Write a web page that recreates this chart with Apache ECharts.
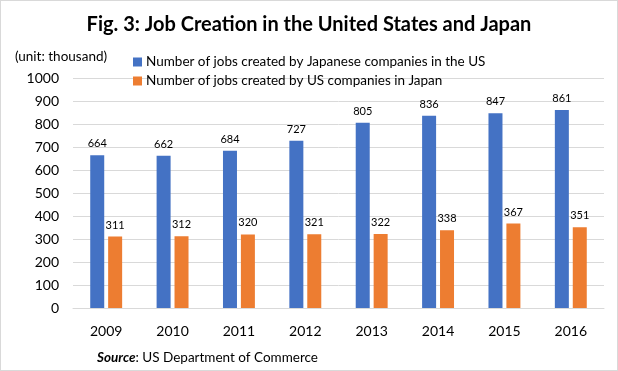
<!DOCTYPE html>
<html><head><meta charset="utf-8">
<script src="https://cdn.jsdelivr.net/npm/echarts@6/dist/echarts.min.js"></script>
<style>html,body{margin:0;padding:0;background:#fff}#c{width:618px;height:371px;box-sizing:border-box;border:1px solid #d9d9d9}</style>
</head><body><div id="c"></div>
<script>
const years = ['2009','2010','2011','2012','2013','2014','2015','2016'];
const jpInUS = [664,662,684,727,805,836,847,861];
const usInJP = [311,312,320,321,322,338,367,351];
const seriesNames = ['Number of jobs created by Japanese companies in the US','Number of jobs created by US companies in Japan'];
const FONT = 'Lato';
const chart = echarts.init(document.getElementById('c'));
chart.setOption({
  animation:false,
  textStyle:{fontFamily:FONT},
  title:[
    {text:'Fig. 3: Job Creation in the United States and Japan',left:'center',top:9,
     textStyle:{fontFamily:FONT,fontWeight:'bold',fontSize:20,color:'#000'}},
    {text:'(unit: thousand)',left:9,top:44,textStyle:{fontFamily:FONT,fontWeight:'normal',fontSize:13.5,color:'#000'}},
    {text:'{b|Source}: US Department of Commerce',left:91,top:345,
     textStyle:{fontFamily:FONT,fontWeight:'normal',fontSize:13.5,color:'#000',
       rich:{b:{fontFamily:FONT,fontWeight:'bold',fontStyle:'italic',fontSize:13.5,color:'#000'}}}}
  ],
  legend:{orient:'vertical',left:127,top:49,itemWidth:9,itemHeight:9,itemGap:5,icon:'rect',
    textStyle:{fontFamily:FONT,fontSize:13.5,color:'#000',padding:[0,0,0,-1]},data:seriesNames},
  grid:{left:72,right:13,top:77,bottom:62},
  xAxis:{type:'category',data:years,
    axisLine:{lineStyle:{color:'#d9d9d9'}},axisTick:{show:false},
    axisLabel:{fontFamily:FONT,fontSize:14,color:'#000',margin:16}},
  yAxis:{type:'value',min:0,max:1000,interval:100,
    axisLine:{show:false},axisTick:{show:false},
    splitLine:{lineStyle:{color:'#d9d9d9'}},
    axisLabel:{fontFamily:FONT,fontSize:14,color:'#000',margin:14,formatter:function(v){return String(v);}}},
  series:[
    {name:seriesNames[0],type:'bar',data:jpInUS,barWidth:14,barGap:'28%',
     itemStyle:{color:'#4472C4'},
     label:{show:true,position:'top',distance:6,fontFamily:FONT,fontSize:11,color:'#000'}},
    {name:seriesNames[1],type:'bar',data:usInJP,barWidth:14,
     itemStyle:{color:'#ED7D31'},
     label:{show:true,position:'top',distance:6,fontFamily:FONT,fontSize:11,color:'#000'}}
  ]
});
</script></body></html>
